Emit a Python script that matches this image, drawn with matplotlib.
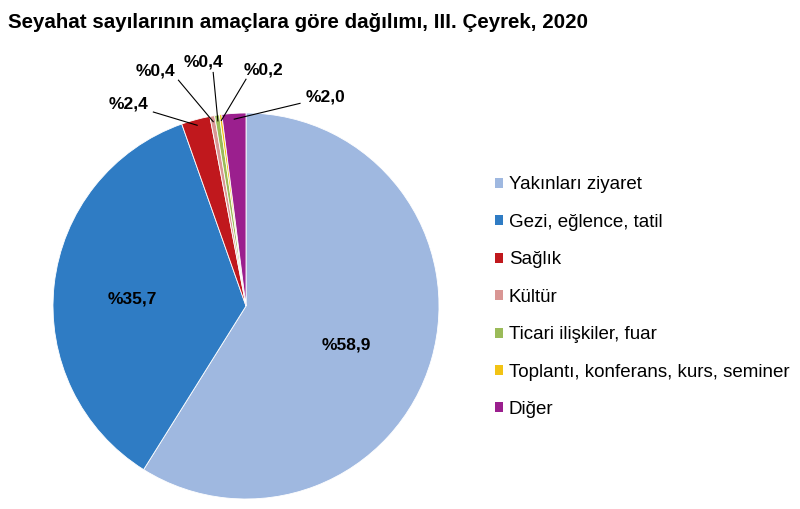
import numpy as np
import matplotlib.pyplot as plt

plt.rcParams['font.family'] = ['Liberation Sans', 'DejaVu Sans']

# data
categories = ["Yakınları ziyaret", "Gezi, eğlence, tatil", "Sağlık", "Kültür",
              "Ticari ilişkiler, fuar", "Toplantı, konferans, kurs, seminer", "Diğer"]
shares = [58.9, 35.7, 2.4, 0.4, 0.4, 0.2, 2.0]
pct_labels = ["%58,9", "%35,7", "%2,4", "%0,4", "%0,4", "%0,2", "%2,0"]
colors = ["#9fb8e0", "#2f7cc4", "#c0181d", "#d99694", "#9bbb59", "#f2c314", "#9b1f8e"]

# where the small labels sit (data units, pie radius = 1); None = inside the slice
label_pos = [(0.52, -0.20), (-0.59, 0.035), (-0.61, 1.047), (-0.47, 1.22),
             (-0.22, 1.265), (0.09, 1.225), (0.41, 1.085)]
line_start = [None, None, (-0.48, 1.005), (-0.35, 1.17), (-0.17, 1.21),
              (0.0, 1.175), (0.28, 1.05)]

fig = plt.figure(figsize=(8.0, 5.09), dpi=100)
fig.text(0.01, 0.955, "Seyahat sayılarının amaçlara göre dağılımı, III. Çeyrek, 2020",
         fontsize=14.75, fontweight='bold', ha='left', va='center')

cx, cy, R, half = 246, 306, 193, 260
ax = fig.add_axes([(cx - half) / 800, (509 - cy - half) / 509, 2 * half / 800, 2 * half / 509])

wedges, _ = ax.pie(shares, colors=colors, startangle=90, counterclock=False,
                   radius=1.0, wedgeprops=dict(edgecolor='white', linewidth=0.6))
lim = half / R
ax.set_xlim(-lim, lim)
ax.set_ylim(-lim, lim)
ax.set_aspect('equal')
ax.axis('off')

for w, lab, pos, ls in zip(wedges, pct_labels, label_pos, line_start):
    if ls is not None:
        mid = np.deg2rad((w.theta1 + w.theta2) / 2)
        tip = (0.97 * np.cos(mid), 0.97 * np.sin(mid))
        ax.plot([ls[0], tip[0]], [ls[1], tip[1]], color='black', lw=0.8)
    ax.text(pos[0], pos[1], lab, fontsize=12.5, fontweight='bold', ha='center', va='center')

leg = fig.legend(wedges, categories, loc='upper left', bbox_to_anchor=(0.609, 0.668),
                 frameon=False, fontsize=13.5, handlelength=0.45, handleheight=0.45,
                 handletextpad=0.3, labelspacing=1.09, borderaxespad=0)
for h in leg.legend_handles:
    h.set_edgecolor('none')

fig.savefig("out.png", dpi=100)
